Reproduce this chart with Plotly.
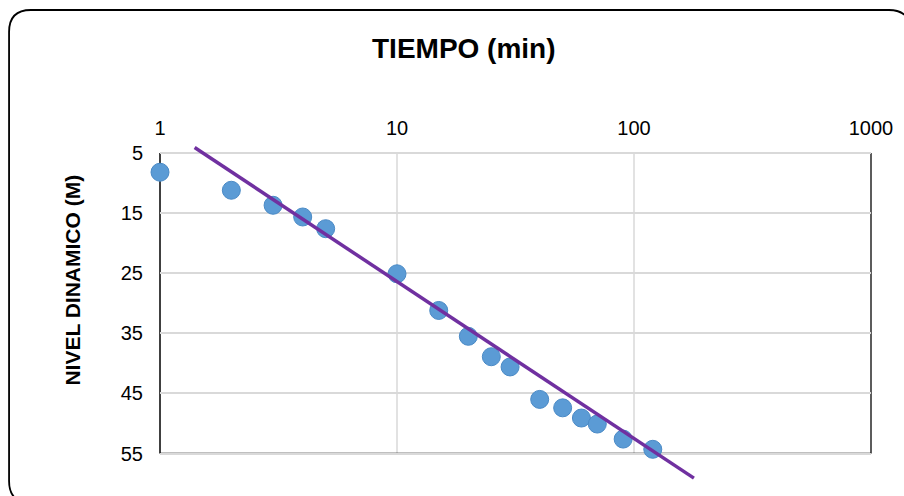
import math
import plotly.graph_objects as go

# ---- data ----
tiempo = [1, 2, 3, 4, 5, 10, 15, 20, 25, 30, 40, 50, 60, 70, 90, 120]
nivel = [8.2, 11.2, 13.7, 15.65, 17.6, 25.1, 31.2, 35.5, 38.9, 40.6,
         46.0, 47.4, 49.1, 50.1, 52.6, 54.3]
trend_x = [1.4, 179]
trend_y = [4.1, 59.1]
x_ticks = [1, 10, 100, 1000]
y_ticks = [5, 15, 25, 35, 45, 55]

# ---- layout geometry ----
W, H = 904, 496
L, R, T, B = 160, 28, 140, 11
PW, PH = W - L - R, H - T - B
FONT = "Liberation Sans, Arial, sans-serif"


def px(x):
    return (x - L) / PW


def py(y):
    return (H - B - y) / PH


fig = go.Figure()

fig.add_trace(go.Scatter(
    x=tiempo, y=nivel, mode="markers",
    marker=dict(size=18, color="#5b9bd5", line=dict(width=1, color="#4a8ac6")),
    cliponaxis=False, showlegend=False,
))
fig.add_trace(go.Scatter(
    x=trend_x, y=trend_y, mode="lines",
    line=dict(color="#7030a0", width=3.5), showlegend=False,
))

shapes = []
# vertical gridlines between 5 and 55
for v in x_ticks[1:-1]:
    d = math.log10(v) / 3
    shapes.append(dict(type="line", xref="x domain", yref="y", x0=d, x1=d,
                       y0=y_ticks[0], y1=y_ticks[-1],
                       line=dict(color="#d9d9d9", width=1.5), layer="below"))
# right dark line at 1000
shapes.append(dict(type="line", xref="x domain", yref="y", x0=1, x1=1,
                   y0=y_ticks[0], y1=y_ticks[-1],
                   line=dict(color="#262626", width=1.5), layer="below"))
# y-axis line
shapes.append(dict(type="line", xref="x domain", yref="y", x0=0, x1=0,
                   y0=y_ticks[0], y1=y_ticks[-1],
                   line=dict(color="#000000", width=1.5), layer="below"))
# bottom axis line
shapes.append(dict(type="line", xref="x domain", yref="y", x0=0, x1=1,
                   y0=y_ticks[-1], y1=y_ticks[-1],
                   line=dict(color="#000000", width=1.5), layer="below"))

# rounded outer border
l, t, r, b, rad = 8, 10, 916, 503, 22
path = (f"M {px(l)},{py(t+rad)} "
        f"Q {px(l)},{py(t)} {px(l+rad)},{py(t)} "
        f"L {px(r-rad)},{py(t)} "
        f"Q {px(r)},{py(t)} {px(r)},{py(t+rad)} "
        f"L {px(r)},{py(b-rad)} "
        f"Q {px(r)},{py(b)} {px(r-rad)},{py(b)} "
        f"L {px(l+rad)},{py(b)} "
        f"Q {px(l)},{py(b)} {px(l)},{py(b-rad)} Z")
shapes.append(dict(type="path", xref="paper", yref="paper", path=path,
                   line=dict(color="#000000", width=1.8), layer="above"))

annotations = [
    dict(text="<b>TIEMPO (min)</b>", xref="paper", yref="paper",
         x=px(466.5), y=py(48), showarrow=False,
         font=dict(family=FONT, size=28, color="#000000"),
         xanchor="center", yanchor="middle"),
    dict(text="<b>NIVEL DINAMICO (M)</b>", xref="paper", yref="paper",
         x=px(71), y=py(280), showarrow=False, textangle=-90,
         font=dict(family=FONT, size=21, color="#000000"),
         xanchor="center", yanchor="middle"),
]

fig.update_layout(
    width=W, height=H,
    margin=dict(l=L, r=R, t=T, b=B),
    paper_bgcolor="white", plot_bgcolor="white",
    font=dict(family=FONT, size=20, color="#000000"),
    shapes=shapes, annotations=annotations,
    showlegend=False,
    xaxis=dict(type="log", range=[0, 3], side="top",
               tickvals=x_ticks, ticktext=[str(v) for v in x_ticks],
               showgrid=False, showline=False, zeroline=False, ticks="",
               tickfont=dict(family=FONT, size=20, color="#000000")),
    yaxis=dict(range=[60.24, 2.84], tickvals=y_ticks,
               ticktext=[str(v) for v in y_ticks],
               showgrid=True, gridcolor="#d9d9d9", gridwidth=1.5,
               showline=False, zeroline=False, ticks="",
               ticklabelstandoff=16,
               tickfont=dict(family=FONT, size=20, color="#000000")),
)

fig.write_html("out.html")
